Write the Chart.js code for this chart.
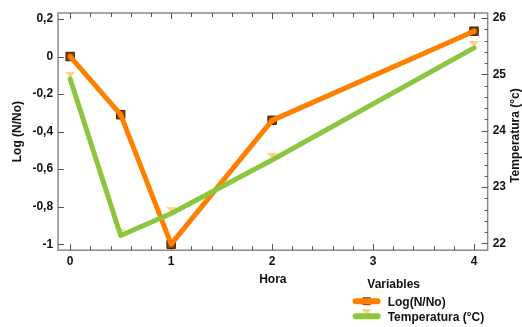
<!DOCTYPE html>
<html>
<head>
<meta charset="utf-8">
<script src="https://cdn.jsdelivr.net/npm/chart.js@4.4.0/dist/chart.umd.min.js"></script>
<style>
  html, body { margin: 0; padding: 0; background: #fff; }
</style>
</head>
<body>
<canvas id="grafico" width="522" height="327"></canvas>
<script>
// datos
const horas = [0, 0.5, 1, 2, 4];
const logN = [0, -0.31, -1.0, -0.34, 0.135];
const temperatura = [24.92, 22.14, 22.53, 23.48, 25.47];

const ticksHora = [0, 1, 2, 3, 4];
const ticksLog = [-1, -0.8, -0.6, -0.4, -0.2, 0, 0.2];
const ticksTemp = [22, 23, 24, 25, 26];

const naranja = "#FF8000";
const verde = "#8CC63E";
const fuente = '"Liberation Sans", Arial, sans-serif';

// marcador triangulo (apunta hacia abajo, un poco por encima del punto)
const tri = document.createElement("canvas");
tri.width = 10;
tri.height = 14;
const tc = tri.getContext("2d");
tc.fillStyle = "#FFD27A";
tc.beginPath();
tc.moveTo(0, 0);
tc.lineTo(10, 0);
tc.lineTo(5, 6);
tc.closePath();
tc.fill();

const puntosLog = horas.map((h, i) => ({ x: h, y: logN[i] }));
const puntosTemp = horas.map((h, i) => ({ x: h, y: temperatura[i] }));

const coma = (v) => String(Math.round(v * 10) / 10).replace(".", ",");

const marco = {
  id: "marco",
  beforeDatasetsDraw(chart) {
    const { ctx, chartArea: a, scales } = chart;
    ctx.save();
    ctx.strokeStyle = "#8a8a8a";
    ctx.lineWidth = 1.5;
    ctx.strokeRect(a.left, a.top, a.right - a.left, a.bottom - a.top);
    ctx.strokeStyle = "#555";
    ctx.lineWidth = 1;
    ctx.beginPath();
    for (let k = 0; k <= 20; k++) {
      const px = Math.round(scales.x.getPixelForValue(k / 5)) + 0.5;
      const len = k % 5 === 0 ? 6 : 4;
      ctx.moveTo(px, a.bottom);
      ctx.lineTo(px, a.bottom - len);
      ctx.moveTo(px, a.top);
      ctx.lineTo(px, a.top + len);
    }
    ticksLog.forEach((v) => {
      const py = Math.round(scales.y.getPixelForValue(v)) + 0.5;
      ctx.moveTo(a.left, py);
      ctx.lineTo(a.left + 6, py);
    });
    for (let k = 0; k <= 20; k++) {
      const py = Math.round(scales.y2.getPixelForValue(22 + k / 5)) + 0.5;
      const len = k % 5 === 0 ? 6 : 3;
      ctx.moveTo(a.right, py);
      ctx.lineTo(a.right - len, py);
    }
    ctx.stroke();
    ctx.restore();
  },
};

const extras = {
  id: "extras",
  afterDraw(chart) {
    const { ctx, chartArea: a } = chart;
    ctx.save();
    ctx.fillStyle = "#111";
    ctx.font = "bold 12px " + fuente;
    // titulo eje derecho
    ctx.save();
    ctx.translate(chart.width - 6, (a.top + a.bottom) / 2 + 4);
    ctx.rotate(-Math.PI / 2);
    ctx.textAlign = "center";
    ctx.textBaseline = "middle";
    ctx.fillText("Temperatura (°c)", 0, 0);
    ctx.restore();

    // leyenda
    const x0 = a.right - 135;
    ctx.textAlign = "center";
    ctx.textBaseline = "middle";
    ctx.fillText("Variables", x0 + 41, a.bottom + 34);
    const items = [
      { texto: "Log(N/No)", color: naranja, cuadro: true },
      { texto: "Temperatura (°C)", color: verde, cuadro: false },
    ];
    items.forEach((it, i) => {
      const y = a.bottom + 51 + i * 15;
      const cx = x0 + 14;
      if (it.cuadro) {
        ctx.fillStyle = "#8B4510";
        ctx.fillRect(cx - 4, y - 4, 8, 8);
      } else {
        ctx.drawImage(tri, cx - 5, y - 7);
      }
      ctx.strokeStyle = it.color;
      ctx.lineWidth = 6;
      ctx.lineCap = "round";
      ctx.beginPath();
      ctx.moveTo(x0 + 3, y);
      ctx.lineTo(x0 + 25, y);
      ctx.stroke();
      ctx.fillStyle = "#111";
      ctx.textAlign = "left";
      ctx.fillText(it.texto, x0 + 35, y + 1);
    });
    ctx.restore();
  },
};

const ctx = document.getElementById("grafico").getContext("2d");
new Chart(ctx, {
  type: "line",
  data: {
    datasets: [
      {
        label: "Temperatura (°C)",
        data: puntosTemp,
        yAxisID: "y2",
        borderColor: verde,
        borderWidth: 5,
        borderCapStyle: "round",
        borderJoinStyle: "round",
        pointRadius: 0,
        tension: 0,
        order: 0,
      },
      {
        label: "Log(N/No)",
        data: puntosLog,
        yAxisID: "y",
        borderColor: naranja,
        borderWidth: 5,
        borderCapStyle: "round",
        borderJoinStyle: "round",
        pointRadius: 0,
        tension: 0,
        order: 1,
      },
      {
        label: "m-temp",
        data: puntosTemp,
        yAxisID: "y2",
        showLine: false,
        pointStyle: tri,
        pointRadius: 5,
        order: 2,
      },
      {
        label: "m-log",
        data: puntosLog,
        yAxisID: "y",
        showLine: false,
        pointStyle: "rect",
        pointRadius: 6,
        backgroundColor: "#8B4510",
        borderColor: "#4a2200",
        borderWidth: 1,
        order: 3,
      },
    ],
  },
  options: {
    responsive: false,
    animation: false,
    devicePixelRatio: 1,
    layout: { padding: { left: 4, right: 11, top: 13, bottom: 36 } },
    plugins: { legend: { display: false }, tooltip: { enabled: false } },
    scales: {
      x: {
        type: "linear",
        min: -0.12,
        max: 4.135,
        afterBuildTicks: (s) => { s.ticks = ticksHora.map((v) => ({ value: v })); },
        grid: { display: false, drawTicks: false },
        border: { display: false },
        ticks: { padding: 4, color: "#111", font: { family: fuente, size: 12, weight: "bold" } },
        title: {
          display: true,
          text: "Hora",
          color: "#111",
          padding: { top: 0, bottom: 4 },
          font: { family: fuente, size: 12, weight: "bold" },
        },
      },
      y: {
        position: "left",
        min: -1.032,
        max: 0.232,
        afterBuildTicks: (s) => { s.ticks = ticksLog.map((v) => ({ value: v })); },
        grid: { display: false, drawTicks: false },
        border: { display: false },
        ticks: { padding: 5, color: "#111", callback: (v) => coma(v), font: { family: fuente, size: 12, weight: "bold" } },
        title: {
          display: true,
          text: "Log (N/No)",
          color: "#111",
          padding: { top: 6, bottom: 3 },
          font: { family: fuente, size: 12, weight: "bold" },
        },
      },
      y2: {
        position: "right",
        min: 21.88,
        max: 26.09,
        afterBuildTicks: (s) => { s.ticks = ticksTemp.map((v) => ({ value: v })); },
        grid: { display: false, drawTicks: false },
        border: { display: false },
        ticks: { padding: 5, color: "#111", font: { family: fuente, size: 12, weight: "bold" } },
      },
    },
  },
  plugins: [marco, extras],
});
</script>
</body>
</html>
